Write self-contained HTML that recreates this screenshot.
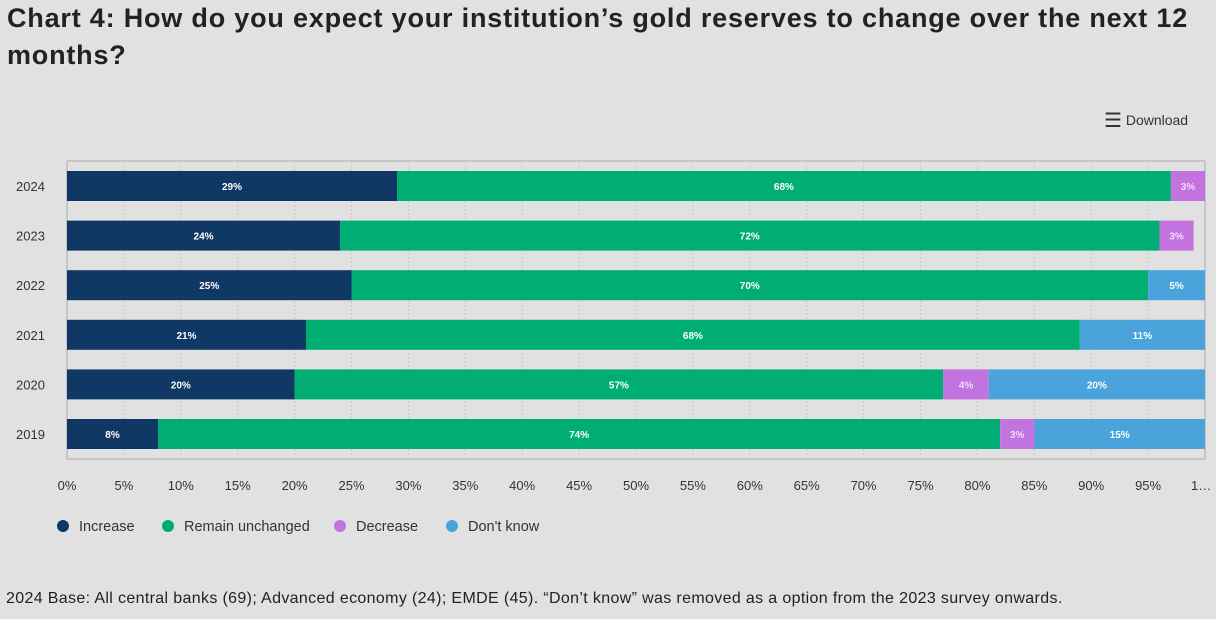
<!DOCTYPE html>
<html><head><meta charset="utf-8"><style>
body{margin:0;width:1216px;height:619px;background:#e1e1e1;font-family:"Liberation Sans",sans-serif;overflow:hidden;position:relative}
h1{position:absolute;left:7px;top:0px;margin:0;font-size:27px;line-height:37px;font-weight:bold;color:#222;width:1210px;letter-spacing:0.8px}
.foot{position:absolute;left:6px;top:590px;font-size:16px;color:#222;letter-spacing:0.35px}
.dl{position:absolute;left:1104px;top:108px;font-size:14px;color:#333}
</style></head><body>
<h1>Chart 4: How do you expect your institution’s gold reserves to change over the next 12<br>months?</h1>
<div class="dl"><span style="font-size:20px;vertical-align:-2px">☰</span> Download</div>
<svg id="c" width="1216" height="619" style="position:absolute;left:0;top:0"></svg>
<div class="foot">2024 Base: All central banks (69); Advanced economy (24); EMDE (45). “Don’t know” was removed as a option from the 2023 survey onwards.</div>
<script>
const years=["2024","2023","2022","2021","2020","2019"];
const increase=[29,24,25,21,20,8];
const unchanged=[68,72,70,68,57,74];
const decrease=[3,3,0,0,4,3];
const dontKnow=[0,0,5,11,20,15];
const ticks=[0,5,10,15,20,25,30,35,40,45,50,55,60,65,70,75,80,85,90,95,100];
const seriesNames=["Increase","Remain unchanged","Decrease","Don't know"];
const colors=["#0f3864","#00ad72","#c373e0","#4aa3db"];
const X0=67,X1=1205,Y0=161,Y1=459;
const x=v=>X0+(X1-X0)*Math.min(v,100)/100;
const yc=i=>186+i*49.6;
const svg=document.getElementById('c');
const NS="http://www.w3.org/2000/svg";
function mk(t,a,p){const e=document.createElementNS(NS,t);for(const k in a)e.setAttribute(k,a[k]);(p||svg).appendChild(e);return e;}
const frame=mk('rect',{x:X0,y:Y0,width:X1-X0,height:Y1-Y0,fill:'none',stroke:'#aaa'});


ticks.forEach((t,i)=>{
  if(t>0&&t<100){const g=mk('line',{x1:x(t),x2:x(t),y1:Y0,y2:Y1,stroke:'#c8c8c8','stroke-dasharray':'2,2'});
  
  }
  const lb=mk('text',{x:t==100?x(t)-14:x(t),y:490,'font-size':13,fill:'#333','text-anchor':t==100?'start':'middle'});
  lb.textContent=t==100?'1…':t+'%';
  
  
});
const all=[increase,unchanged,decrease,dontKnow];
years.forEach((yr,i)=>{
  const yl=mk('text',{x:16,y:yc(i)+5,'font-size':13,fill:'#333'});
  yl.textContent=yr;
  
  
  let acc=0;
  all.forEach((s,k)=>{
    const v=s[i];if(!v)return;
    const r=mk('rect',{x:x(acc),y:yc(i)-15,width:x(acc+v)-x(acc),height:30,fill:colors[k]});
    
    
    const t=mk('text',{x:(x(acc)+x(acc+v))/2,y:yc(i)+4,'font-size':10,'font-weight':'bold',fill:k==2?'#f0dcf8':'#fff','text-anchor':'middle'});
    t.textContent=v+'%';
    
    
    acc+=v;
  });
});
const lx=[63,168,340,452];
seriesNames.forEach((n,k)=>{
  const c=mk('circle',{cx:lx[k],cy:526,r:6,fill:colors[k]});
  
  
  const t=mk('text',{x:lx[k]+16,y:531,'font-size':14.5,fill:'#333'});
  t.textContent=n;
  
  
});
</script>
</body></html>
